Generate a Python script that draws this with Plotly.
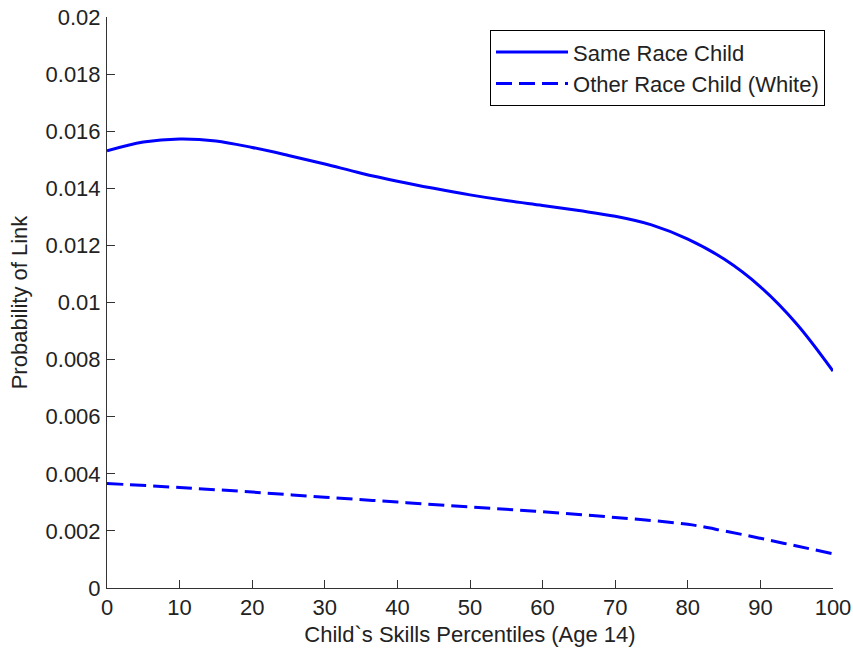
import plotly.graph_objects as go

# Data
percentiles = [0, 5, 10, 15, 20, 25, 30, 35, 40, 45, 50, 55, 60, 65, 70, 75, 80, 85, 90, 95, 100]
same_race = [0.01531, 0.01562, 0.01573, 0.01566, 0.01543, 0.01515, 0.01485, 0.01453, 0.01425,
             0.01400, 0.01377, 0.01357, 0.01340, 0.01322, 0.01302, 0.01272, 0.01222, 0.01152,
             0.01055, 0.00925, 0.00760]
other_x = [0, 10, 20, 30, 40, 50, 60, 70, 80, 85, 90, 95, 100]
other_race = [0.00366, 0.00352, 0.00336, 0.00318, 0.00301, 0.00284, 0.00267, 0.00247, 0.00223,
              0.00200, 0.00174, 0.00147, 0.00120]

x_ticks = [0, 10, 20, 30, 40, 50, 60, 70, 80, 90, 100]
y_ticks = [0, 0.002, 0.004, 0.006, 0.008, 0.01, 0.012, 0.014, 0.016, 0.018, 0.02]
y_tick_labels = ["0", "0.002", "0.004", "0.006", "0.008", "0.01", "0.012", "0.014", "0.016", "0.018", "0.02"]

FONT = "Liberation Sans"
TXT = "#222222"
FS = 22

fig = go.Figure()
fig.add_trace(go.Scatter(x=percentiles, y=same_race, mode="lines", name="Same Race Child",
                         line=dict(color="#0000FF", width=3, shape="spline")))
fig.add_trace(go.Scatter(x=other_x, y=other_race, mode="lines", name="Other Race Child (White)",
                         line=dict(color="#0000FF", width=3, dash="16px,7px", shape="spline")))

fig.update_layout(
    width=853, height=652,
    margin=dict(l=107, r=20, t=17, b=64, autoexpand=False),
    paper_bgcolor="white", plot_bgcolor="white",
    font=dict(family=FONT, size=FS, color=TXT),
    showlegend=True,
    legend=dict(x=0.989, y=0.977, xanchor="right", yanchor="top",
                bgcolor="white", bordercolor="black", borderwidth=1,
                font=dict(family=FONT, size=FS, color=TXT), itemwidth=72,
                tracegroupgap=0),
    xaxis=dict(range=[0, 100], tickvals=x_ticks, ticks="inside", ticklen=8, tickwidth=1,
               tickcolor="#333333", showline=True, linecolor="#333333", linewidth=1,
               showgrid=False, zeroline=False, mirror=False, automargin=False,
               ticklabeloverflow="allow",
               title=dict(text="Child`s Skills Percentiles (Age 14)", standoff=7,
                          font=dict(family=FONT, size=FS, color=TXT)),
               tickfont=dict(family=FONT, size=FS, color=TXT)),
    yaxis=dict(range=[0, 0.02], tickvals=y_ticks, ticktext=y_tick_labels, ticks="inside",
               ticklen=8, tickwidth=1, tickcolor="#333333", showline=True, linecolor="#333333",
               linewidth=1, showgrid=False, zeroline=False, mirror=False, ticklabelstandoff=1,
               automargin=False, ticklabeloverflow="allow",
               title=dict(text="Probability of Link", standoff=11,
                          font=dict(family=FONT, size=FS, color=TXT)),
               tickfont=dict(family=FONT, size=FS, color=TXT)),
)

fig.write_html("out.html", config={"displayModeBar": False},
               post_script="document.body.style.margin='0';document.body.style.overflow='hidden';")
